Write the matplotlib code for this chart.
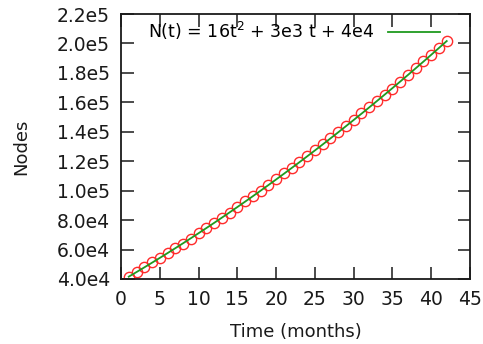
import matplotlib
matplotlib.use("Agg")
import matplotlib.pyplot as plt
import numpy as np

# Monthly node counts
months = list(range(1, 43))
nodes = [41200, 44500, 47900, 51300, 54400, 57500, 60800, 64100, 67500, 71000,
         74700, 78200, 81500, 85100, 88900, 92700, 96300, 99800, 103600, 107700,
         111700, 115500, 119200, 123400, 127500, 131600, 135600, 139900, 144000, 148200,
         152500, 156700, 160600, 164700, 168900, 173800, 178500, 183200, 187900, 192400,
         197100, 201800]

# Quadratic fit N(t) = a t^2 + b t + c
fit_a, fit_b, fit_c = 19.5, 3065.0, 38500.0
fit_label = r"N(t) = 16t$^{2}$ + 3e3 t + 4e4"

x_ticks = [0, 5, 10, 15, 20, 25, 30, 35, 40, 45]
y_ticks = [40000, 60000, 80000, 100000, 120000, 140000, 160000, 180000, 200000, 220000]
y_tick_labels = ["4.0e4", "6.0e4", "8.0e4", "1.0e5", "1.2e5", "1.4e5",
                 "1.6e5", "1.8e5", "2.0e5", "2.2e5"]

plt.rcParams["font.family"] = ["DejaVu Sans"]
plt.rcParams["mathtext.fontset"] = "dejavusans"

fig = plt.figure(figsize=(4.83, 3.44), dpi=100)
ax = fig.add_axes([121 / 483, 1 - 279 / 344, (470 - 121) / 483, (279 - 14) / 344])

t = np.array(months, dtype=float)
ax.plot(t, nodes, linestyle="none", marker="o", markersize=7.4,
        markerfacecolor="none", markeredgecolor="#ff2a2a", markeredgewidth=1.0)
ax.plot(t, fit_a * t ** 2 + fit_b * t + fit_c, color="#1f9a1f", linewidth=1.3,
        label=fit_label)

ax.set_xlim(0, 45)
ax.set_ylim(40000, 220000)
ax.set_xticks(x_ticks)
ax.set_xticklabels([str(v) for v in x_ticks])
ax.set_yticks(y_ticks)
ax.set_yticklabels(y_tick_labels)

ax.tick_params(direction="in", length=9, width=1.1, top=True, right=True,
               labelsize=13.5, pad=8, colors="#1a1a1a")
for s in ax.spines.values():
    s.set_linewidth(1.3)
    s.set_color("#1a1a1a")

ax.set_xlabel("Time (months)", fontsize=13, labelpad=10, color="#1a1a1a")
ax.set_ylabel("Nodes", fontsize=13, labelpad=19, color="#1a1a1a")

ax.legend(loc="upper right", bbox_to_anchor=(0.935, 1.005), frameon=False,
          markerfirst=False, fontsize=12.5, handlelength=3.0, handletextpad=0.8,
          borderaxespad=0.0)

fig.savefig("out.png", dpi=100)
